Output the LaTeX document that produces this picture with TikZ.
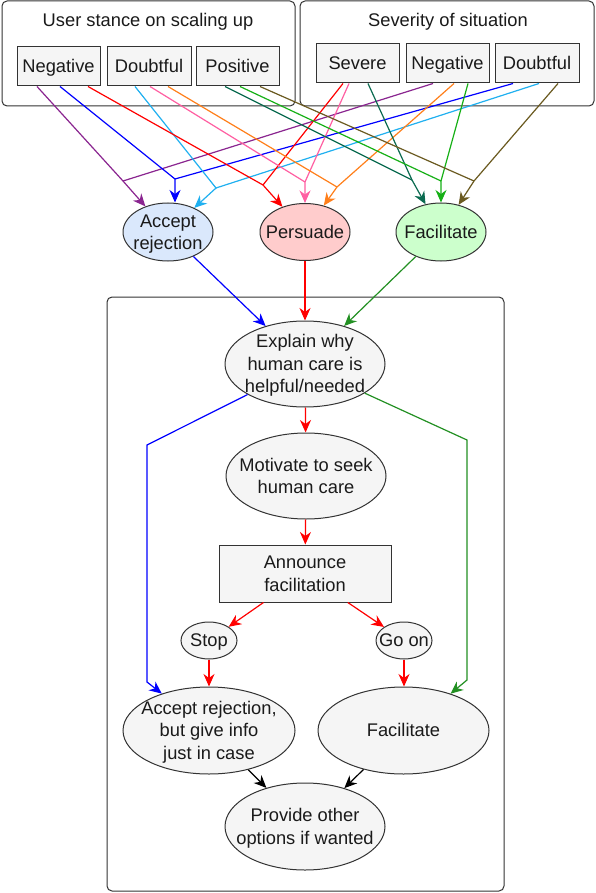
\documentclass[tikz,border=0pt]{standalone}
\usepackage{fontspec}
\setmainfont{Liberation Sans}
\usetikzlibrary{arrows.meta,shapes.geometric,calc}
\definecolor{cstroke}{HTML}{333333}
\definecolor{cfill}{HTML}{F5F5F5}
\definecolor{ctext}{HTML}{1A1A1A}
\definecolor{cpurple}{HTML}{8A2590}
\definecolor{cblue}{HTML}{0000FF}
\definecolor{ccyan}{HTML}{20B0F0}
\definecolor{cred}{HTML}{FF0000}
\definecolor{cpink}{HTML}{FF5FA2}
\definecolor{corange}{HTML}{FF7F1A}
\definecolor{cteal}{HTML}{0B6B50}
\definecolor{cgreen}{HTML}{16B016}
\definecolor{colive}{HTML}{6B5A20}
\definecolor{cdgreen}{HTML}{239023}
\definecolor{cbluefill}{HTML}{DAE8FC}
\definecolor{credfill}{HTML}{FFCCCC}
\definecolor{cgreenfill}{HTML}{CCFFCC}
\newcommand{\dstrut}{\rule[-3.8pt]{0pt}{20.1pt}}
\begin{document}
\begin{tikzpicture}[x=1pt,y=-1pt,
  cont/.style={draw=cstroke, line width=1pt, rounded corners=5pt, fill=white, rectangle, inner sep=0pt},
  box/.style={draw=cstroke, fill=cfill, line width=1pt, rectangle, inner sep=0pt, text=ctext, font=\fontsize{18.3}{22.5}\selectfont},
  ell/.style={draw=cstroke, fill=cfill, line width=1pt, ellipse, inner sep=0pt},
  lbl/.style={inner sep=0pt, align=center, text=ctext, font=\fontsize{18.3}{22.5}\selectfont},
  conn/.style={line width=1.2pt, -{Stealth[length=12.5pt,width=11pt,inset=4pt]}},
  seg/.style={line width=1.2pt}]
\useasboundingbox (0,0) rectangle (596,893);
\fill[white] (0,0) rectangle (596,893);

% containers
\node[cont, minimum width=293pt, minimum height=105pt] (ucont) at (148.5,53.5) {};
\node[cont, minimum width=294pt, minimum height=105pt] (scont) at (447,53.5) {};
\node[lbl, anchor=base] (utitle) at (148,27) {User stance on scaling up};
\node[lbl, anchor=base] (stitle) at (448,27) {Severity of situation};
\node[cont, minimum width=397pt, minimum height=594pt] (main) at (305.5,594) {};

% option boxes
\node[box, minimum width=83pt, minimum height=39pt] (uneg) at (58.5,66.5) {\dstrut Negative};
\node[box, minimum width=84pt, minimum height=39pt] (udoubt) at (149,66.5) {\dstrut Doubtful};
\node[box, minimum width=83pt, minimum height=39pt] (upos) at (237.5,66.5) {\dstrut Positive};
\node[box, minimum width=83pt, minimum height=39pt] (ssev) at (357.5,63.5) {\dstrut Severe};
\node[box, minimum width=83pt, minimum height=39pt] (sneg) at (447.5,63.5) {\dstrut Negative};
\node[box, minimum width=84pt, minimum height=39pt] (sdoubt) at (537,63.5) {\dstrut Doubtful};

% strategy ellipses
\node[ell, fill=cbluefill, minimum width=90pt, minimum height=58pt] (acc) at (168,232) {};
\node[lbl] at (acc.center) {\dstrut Accept\\\dstrut rejection};
\node[ell, fill=credfill, minimum width=90pt, minimum height=57pt] (pers) at (305,232) {};
\node[lbl] at (pers.center) {\dstrut Persuade};
\node[ell, fill=cgreenfill, minimum width=90pt, minimum height=58pt] (fac) at (441,232) {};
\node[lbl] at (fac.center) {\dstrut Facilitate};

% flow
\node[ell, minimum width=160pt, minimum height=86pt] (explain) at (305,364) {};
\node[lbl] at (explain.center) {\dstrut Explain why\\\dstrut human care is\\\dstrut helpful/needed};
\node[ell, minimum width=160pt, minimum height=86pt] (motiv) at (306,476) {};
\node[lbl] at (motiv.center) {\dstrut Motivate to seek\\\dstrut human care};
\node[box, minimum width=172pt, minimum height=57pt, align=center] (announce) at (305,573.5) {\dstrut Announce\\\dstrut facilitation};
\node[ell, minimum width=56pt, minimum height=37pt] (stop) at (209,640.5) {};
\node[lbl] at (stop.center) {\dstrut Stop};
\node[ell, minimum width=56pt, minimum height=37pt] (goon) at (404,640.5) {};
\node[lbl] at (goon.center) {\dstrut Go on};
\node[ell, minimum width=172pt, minimum height=87pt] (acc2) at (209,730.5) {};
\node[lbl] at (acc2.center) {\dstrut Accept rejection,\\\dstrut but give info\\\dstrut just in case};
\node[ell, minimum width=171pt, minimum height=87pt] (fac2) at (403.5,730.5) {};
\node[lbl] at (fac2.center) {\dstrut Facilitate};
\node[ell, minimum width=160pt, minimum height=87pt] (provide) at (305,826.5) {};
\node[lbl] at (provide.center) {\dstrut Provide other\\\dstrut options if wanted};

% junctions
\coordinate (jpu) at (123,181);
\coordinate (jbl) at (175,179);
\coordinate (jcy) at (216,188);
\coordinate (jre) at (263,185);
\coordinate (jpi) at (305,182);
\coordinate (jor) at (337,187);
\coordinate (jte) at (412,180);
\coordinate (jgr) at (441,181);
\coordinate (jol) at (474,181);

% top connectors
\draw[conn, cpurple] ([xshift=-21.5pt]uneg.south) -- (jpu) -- (acc);
\draw[seg, cpurple] ([xshift=-14.5pt]sneg.south) -- (jpu);
\draw[conn, cblue] ([xshift=1.5pt]uneg.south) -- (jbl) -- (jbl |- acc.north);
\draw[seg, cblue] ([xshift=-24pt]sdoubt.south) -- (jbl);
\draw[conn, ccyan] ([xshift=-14pt]udoubt.south) -- (jcy) -- (acc);
\draw[seg, ccyan] ([xshift=2pt]sdoubt.south) -- (jcy);
\draw[conn, cred] ([xshift=29.5pt]uneg.south) -- (jre) -- (pers);
\draw[seg, cred] ([xshift=-14.5pt]ssev.south) -- (jre);
\draw[conn, cpink] ([xshift=-8.5pt]ssev.south) -- (jpi) -- (jpi |- pers.north);
\draw[seg, cpink] ([xshift=1pt]udoubt.south) -- (jpi);
\draw[conn, corange] ([xshift=6.5pt]sneg.south) -- (jor) -- (pers);
\draw[seg, corange] ([xshift=19pt]udoubt.south) -- (jor);
\draw[conn, cteal] ([xshift=10.5pt]ssev.south) -- (jte) -- (fac);
\draw[seg, cteal] ([xshift=-12.5pt]upos.south) -- (jte);
\draw[conn, cgreen] ([xshift=20.5pt]sneg.south) -- (jgr) -- (jgr |- fac.north);
\draw[seg, cgreen] ([xshift=2.5pt]upos.south) -- (jgr);
\draw[conn, colive] ([xshift=21pt]sdoubt.south) -- (jol) -- (fac);
\draw[seg, colive] ([xshift=22.5pt]upos.south) -- (jol);

% flow connectors
\draw[conn, cblue] (acc) -- (explain);
\draw[conn, cred] (pers) -- (explain);
\draw[conn, cdgreen] (fac) -- (explain);
\draw[conn, cred] (explain) -- (motiv);
\draw[conn, cred] (motiv) -- (announce);
\draw[conn, cred] (announce) -- (stop);
\draw[conn, cred] (announce) -- (goon);
\draw[conn, cred] (stop) -- (acc2);
\draw[conn, cred] (goon) -- (goon |- fac2.north);
\coordinate (b1) at (147,445);
\coordinate (b2) at (147,682);
\coordinate (g1) at (467,440);
\coordinate (g2) at (467,680);
\draw[conn, cblue] (explain.208) -- (b1) -- (b2) -- (acc2.142);
\draw[conn, cdgreen] (explain.334) -- (g1) -- (g2) -- (fac2.38);
\draw[conn, black] (acc2) -- (provide);
\draw[conn, black] (fac2) -- (provide);
\end{tikzpicture}
\end{document}
